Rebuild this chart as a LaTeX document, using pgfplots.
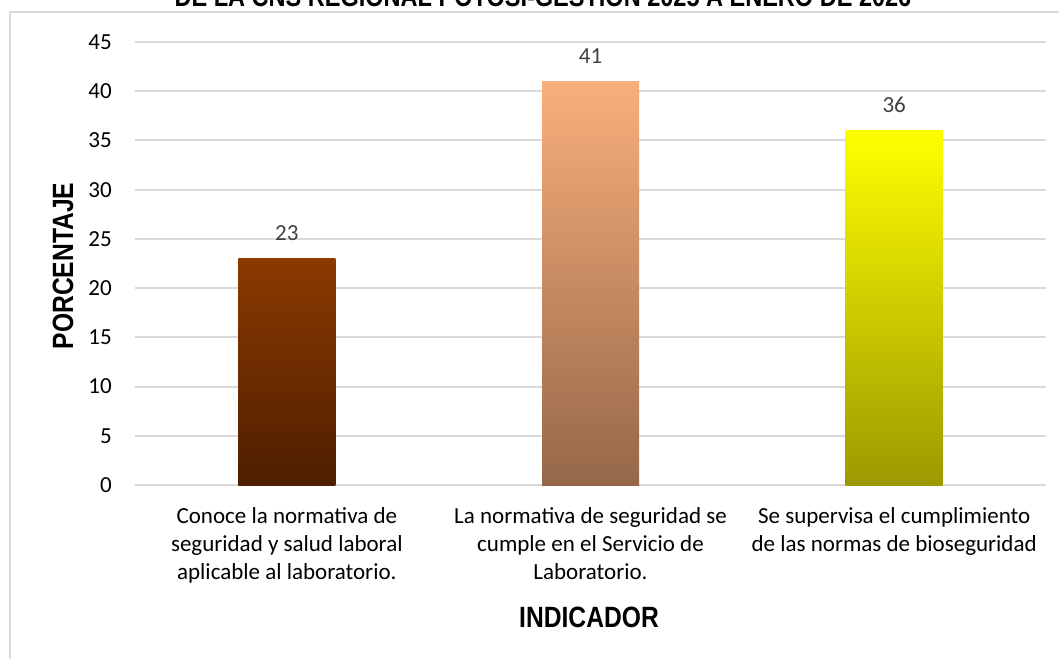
\documentclass[border=0pt]{standalone}
\usepackage{pgfplots}
\pgfplotsset{compat=1.18}
\usepackage{fontspec}
\setmainfont{Carlito}
\newfontfamily\narrowfont{Liberation Sans}[FakeStretch=0.84]
\definecolor{gridgray}{HTML}{D9D9D9}
\definecolor{labgray}{HTML}{404040}
\definecolor{bAtop}{HTML}{8B3A00}
\definecolor{bAbot}{HTML}{4E1E00}
\definecolor{bBtop}{HTML}{F9AF7B}
\definecolor{bBbot}{HTML}{956749}
\definecolor{bCtop}{HTML}{FFFF00}
\definecolor{bCbot}{HTML}{9C9900}
\newcommand\tickfont{\fontsize{17.25}{21}\selectfont}
\begin{document}
\begin{tikzpicture}
\useasboundingbox (0,0) rectangle (794.25pt,493.5pt);
% chart frame
\draw[gridgray, line width=1.5pt] (7.5pt,484.5pt) rectangle (800pt,-6pt);
% title (cut off at top)
\node[anchor=base, inner sep=0pt, font={\narrowfont\bfseries\fontsize{21}{25}\selectfont}] at (407.25pt,488.25pt) {DE LA CNS REGIONAL POTOSI-GESTION 2025 A ENERO DE 2026};
\begin{axis}[
  at={(101.25pt,129.75pt)}, anchor=south west,
  scale only axis, width=683.25pt, height=332.25pt,
  xmin=-0.5, xmax=2.5, ymin=0, ymax=45,
  ytick={0,5,...,45},
  xtick={0,1,2},
  xticklabels={{Conoce la normativa de\\seguridad y salud laboral\\aplicable al laboratorio.},
               {La normativa de seguridad se\\cumple en el Servicio de\\Laboratorio.},
               {Se supervisa el cumplimiento\\de las normas de bioseguridad}},
  /pgf/number format/assume math mode=true,
  axis line style={draw=none},
  major tick length=0pt,
  ymajorgrids, grid style={gridgray, line width=1.5pt},
  yticklabel style={font=\tickfont, inner sep=0pt, anchor=east, xshift=-17.25pt},
  xticklabel style={font=\tickfont, inner sep=0pt, anchor=north, align=center, yshift=-16.5pt},
  clip=false,
]
\addplot[ybar, bar width=72.75pt, bar shift=0pt, draw=none, top color=bAtop, bottom color=bAbot,
  nodes near coords, nodes near coords style={font=\tickfont, text=labgray, anchor=base, yshift=13.5pt, /pgf/number format/assume math mode=true}]
  coordinates {(0,23)};
\addplot[ybar, bar width=72.75pt, bar shift=0pt, draw=none, top color=bBtop, bottom color=bBbot,
  nodes near coords, nodes near coords style={font=\tickfont, text=labgray, anchor=base, yshift=13.5pt, /pgf/number format/assume math mode=true}]
  coordinates {(1,41)};
\addplot[ybar, bar width=72.75pt, bar shift=0pt, draw=none, top color=bCtop, bottom color=bCbot,
  nodes near coords, nodes near coords style={font=\tickfont, text=labgray, anchor=base, yshift=13.5pt, /pgf/number format/assume math mode=true}]
  coordinates {(2,36)};
\end{axis}
% axis titles
\node[anchor=base, inner sep=0pt, font={\narrowfont\bfseries\fontsize{22}{26}\selectfont}] at (441.75pt,23.25pt) {INDICADOR};
\node[anchor=base, rotate=90, inner sep=0pt, font={\narrowfont\bfseries\fontsize{22}{26}\selectfont}] at (54.75pt,294pt) {PORCENTAJE};
\end{tikzpicture}
\end{document}
